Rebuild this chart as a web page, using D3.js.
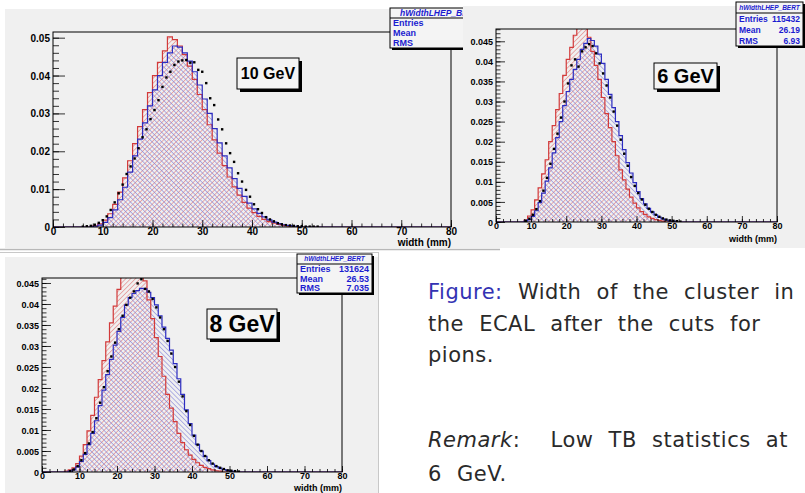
<!DOCTYPE html>
<html>
<head>
<meta charset="utf-8">
<script src="https://cdn.jsdelivr.net/npm/d3@7"></script>
<style>
body { margin: 0; background: #fff; }
svg { display: block; }
</style>
</head>
<body>
<svg id="chart" width="805" height="493"></svg>
<script>
'use strict';

const xTicks = [0, 10, 20, 30, 40, 50, 60, 70, 80];
const xLabel = "width (mm)";
const statTitle = "hWidthLHEP_BERT";
const statNames = ["Entries", "Mean", "RMS"];

// 10 GeV (1 mm bins, first bin given by *Start)
const red10Start = 8;
const red10 = [0.0003, 0.0008, 0.0018, 0.0035, 0.006, 0.0092, 0.013, 0.0175, 0.022, 0.0265,
  0.031, 0.0355, 0.040, 0.0435, 0.0465, 0.0502, 0.0495, 0.0478, 0.0455, 0.0425,
  0.039, 0.035, 0.031, 0.027, 0.023, 0.0195, 0.0162, 0.0132, 0.0106, 0.0084,
  0.0065, 0.005, 0.0038, 0.0028, 0.002, 0.0014, 0.001, 0.0007, 0.0004, 0.0002];
const blue10Start = 8;
const blue10 = [0.0002, 0.0005, 0.0012, 0.0025, 0.0045, 0.0072, 0.0105, 0.0145, 0.0188, 0.0232,
  0.0275, 0.032, 0.0362, 0.040, 0.0435, 0.046, 0.0478, 0.0475, 0.046, 0.0438,
  0.041, 0.0375, 0.0338, 0.030, 0.026, 0.0222, 0.0188, 0.0156, 0.0128, 0.0102,
  0.0081, 0.0063, 0.0048, 0.0036, 0.0027, 0.0019, 0.0013, 0.0009, 0.0006, 0.0004, 0.0002];
const dots10First = 6.0;   // centre of first data point (mm)
const dots10Step = 0.8;
const dots10 = [0.0001, 0.0002, 0.0003, 0.0006, 0.0011, 0.0018, 0.0028, 0.0045, 0.0065, 0.0089,
  0.0112, 0.014, 0.016, 0.0181, 0.0208, 0.0237, 0.0258, 0.0285, 0.0309, 0.0335,
  0.037, 0.0395, 0.041, 0.0428, 0.0437, 0.044, 0.0441, 0.0434, 0.0435, 0.0415,
  0.041, 0.038, 0.034, 0.0322, 0.0284, 0.0258, 0.0221, 0.0195, 0.0172, 0.0142,
  0.012, 0.0098, 0.008, 0.006, 0.0047, 0.0037, 0.0026, 0.002, 0.0015, 0.001,
  0.0007, 0.0005, 0.0004, 0.0003, 0.0002, 0.0002, 0.0001, 0.0001, 0.0001, 0.0001];
const stat10 = ["1", "", ""];

// 6 GeV
const red6Start = 8;
const red6 = [0.0005, 0.0015, 0.003, 0.0055, 0.0085, 0.012, 0.0155, 0.020, 0.024, 0.028,
  0.032, 0.0365, 0.0405, 0.0435, 0.0465, 0.049, 0.0495, 0.049, 0.046, 0.0425,
  0.039, 0.0355, 0.031, 0.027, 0.0235, 0.020, 0.0165, 0.013, 0.0105, 0.0082,
  0.0062, 0.0047, 0.0035, 0.0026, 0.0019, 0.0013, 0.0009, 0.0006, 0.0004, 0.0002];
const blue6Start = 8;
const blue6 = [0.0002, 0.0006, 0.0014, 0.0028, 0.0048, 0.0072, 0.0102, 0.0135, 0.0172, 0.021,
  0.025, 0.029, 0.0325, 0.0355, 0.038, 0.0405, 0.043, 0.0445, 0.0457, 0.0452,
  0.0438, 0.0418, 0.0395, 0.0355, 0.0318, 0.0285, 0.025, 0.0215, 0.018, 0.0148,
  0.0122, 0.0098, 0.0076, 0.0058, 0.0045, 0.0034, 0.0025, 0.0018, 0.0012, 0.0008,
  0.0005, 0.0003, 0.0002];
const dots6First = 8.5;
const dots6Step = 1;
const dots6 = [0.0003, 0.0008, 0.0018, 0.0032, 0.0052, 0.0078, 0.011, 0.0145, 0.0182, 0.022,
  0.026, 0.030, 0.0345, 0.039, 0.0405, 0.0387, 0.0425, 0.0435, 0.0443, 0.0438,
  0.042, 0.0395, 0.037, 0.034, 0.031, 0.0275, 0.024, 0.0205, 0.017, 0.014,
  0.0112, 0.009, 0.0072, 0.0056, 0.0043, 0.0033, 0.0025, 0.0018, 0.0013, 0.0009,
  0.0006, 0.0004, 0.0003, 0.0002, 0.0001];
const stat6 = ["115432", "26.19", "6.93"];

// 8 GeV
const red8Start = 6;
const red8 = [0.0002, 0.0005, 0.001, 0.002, 0.0038, 0.0065, 0.0098, 0.0135, 0.0178, 0.022,
  0.0265, 0.031, 0.0355, 0.0395, 0.0435, 0.047, 0.049, 0.0505, 0.051, 0.0505,
  0.0485, 0.0455, 0.041, 0.0365, 0.032, 0.0275, 0.0228, 0.0185, 0.0152, 0.012,
  0.0092, 0.007, 0.0053, 0.004, 0.003, 0.0022, 0.0016, 0.0011, 0.0008, 0.0005,
  0.0003, 0.0002];
const blue8Start = 7;
const blue8 = [0.0002, 0.0005, 0.0012, 0.0025, 0.0042, 0.0065, 0.0092, 0.0122, 0.0158, 0.0195,
  0.0232, 0.0268, 0.0302, 0.0335, 0.0368, 0.0398, 0.0415, 0.0425, 0.0432, 0.0437,
  0.0436, 0.0428, 0.0415, 0.0398, 0.0372, 0.0345, 0.0318, 0.029, 0.0258, 0.0222,
  0.0185, 0.0148, 0.0115, 0.0088, 0.0066, 0.005, 0.0037, 0.0027, 0.0019, 0.0013,
  0.0009, 0.0006, 0.0004, 0.0002];
const dots8First = 7.5;
const dots8Step = 1;
const dots8 = [0.0002, 0.0006, 0.0014, 0.0028, 0.0045, 0.0068, 0.0095, 0.0128, 0.0165, 0.0202,
  0.024, 0.0275, 0.0308, 0.034, 0.0372, 0.0398, 0.0415, 0.043, 0.0449, 0.0459,
  0.0436, 0.043, 0.0412, 0.0392, 0.0368, 0.034, 0.0312, 0.0282, 0.025, 0.0215,
  0.018, 0.0145, 0.0112, 0.0086, 0.0065, 0.005, 0.0038, 0.0028, 0.002, 0.0014,
  0.001, 0.0007, 0.0004, 0.0003, 0.0002, 0.0001];
const stat8 = ["131624", "26.53", "7.035"];

// ---- drawing ----
const svg = d3.select("#chart");
const canvasGrey = "#f0f0f0";
const redLine = "#d23a3a", blueLine = "#2c2cc0";
const statBlue = "#1c1cd0";
const rootFont = "Liberation Sans, Arial, sans-serif";

let defs = svg.append("defs");
function hatch(id, color, angle) {
    defs.append("pattern")
        .attr("id", id)
        .attr("patternUnits", "userSpaceOnUse")
        .attr("width", 3.4).attr("height", 3.4)
        .attr("patternTransform", `rotate(${angle})`)
        .append("line")
        .attr("x1", 0).attr("y1", 0).attr("x2", 0).attr("y2", 3.4)
        .attr("stroke", color).attr("stroke-width", 1.1);
}
hatch("hatchRed", "#e07272", 45);
hatch("hatchBlue", "#7a7ad8", -45);

// turn a sparse bin list into the full 0..80 list the step curves need
function fullBins(values, start) {
    let pts = d3.range(80).map(b => {
        let v = (b >= start && b < start + values.length) ? values[b - start] : 0;
        return [b, v];
    });
    pts.push([80, 0]);
    return pts;
}

function drawPanel(p, idx) {
    let g = svg.append("g").attr("class", "panel");
    let f = p.frame;

    g.append("rect")
        .attr("x", p.canvas[0]).attr("y", p.canvas[1])
        .attr("width", p.canvas[2]).attr("height", p.canvas[3])
        .attr("fill", canvasGrey);

    let x = d3.scaleLinear().domain([0, 80]).range([f.left, f.right]);
    let y = d3.scaleLinear().domain([0, p.yMax]).range([f.bottom, f.top]);

    defs.append("clipPath").attr("id", "clip" + idx)
        .append("rect")
        .attr("x", f.left).attr("y", f.top)
        .attr("width", f.right - f.left).attr("height", f.bottom - f.top);

    let plot = g.append("g").attr("clip-path", `url(#clip${idx})`);

    let area = d3.area().curve(d3.curveStepAfter)
        .x(d => x(d[0])).y0(y(0)).y1(d => y(d[1]));
    let line = d3.line().curve(d3.curveStepAfter)
        .x(d => x(d[0])).y(d => y(d[1]));

    let redPts = fullBins(p.red, p.redStart);
    let bluePts = fullBins(p.blue, p.blueStart);

    plot.append("path").datum(redPts).attr("d", area).attr("fill", "url(#hatchRed)");
    plot.append("path").datum(bluePts).attr("d", area).attr("fill", "url(#hatchBlue)");
    plot.append("path").datum(redPts).attr("d", line)
        .attr("fill", "none").attr("stroke", redLine).attr("stroke-width", 1.2);
    plot.append("path").datum(bluePts).attr("d", line)
        .attr("fill", "none").attr("stroke", blueLine).attr("stroke-width", 1.2);

    plot.selectAll("rect.dot")
        .data(p.dots)
        .enter().append("rect")
        .attr("class", "dot")
        .attr("x", (d, i) => x(p.dotsFirst + i * p.dotsStep) - 1.2)
        .attr("y", d => y(d) - 1.2)
        .attr("width", 2.4).attr("height", 2.4)
        .attr("fill", "#000");

    g.append("rect")
        .attr("x", f.left).attr("y", f.top)
        .attr("width", f.right - f.left).attr("height", f.bottom - f.top)
        .attr("fill", "none").attr("stroke", "#000").attr("stroke-width", 1);

    // axes, ticks pointing into the frame like ROOT
    let fmtY = d => d === 0 ? "0" : String(+d.toFixed(4));
    let yMajors = d3.range(0, p.yMax + 1e-9, p.yMajor);
    let yMinors = d3.range(0, p.yMax + 1e-9, p.yMinor);

    let yMinorAxis = g.append("g").attr("transform", `translate(${f.left},0)`)
        .call(d3.axisLeft(y).tickValues(yMinors).tickSize(-p.minorLen).tickFormat(""));
    let yAxis = g.append("g").attr("transform", `translate(${f.left},0)`)
        .call(d3.axisLeft(y).tickValues(yMajors).tickSize(-p.majorLen).tickPadding(3).tickFormat(fmtY));

    let xMinors = d3.range(0, 80.001, 2);
    let xMinorAxis = g.append("g").attr("transform", `translate(0,${f.bottom})`)
        .call(d3.axisBottom(x).tickValues(xMinors).tickSize(-p.xMinorLen).tickFormat(""));
    let xAxis = g.append("g").attr("transform", `translate(0,${f.bottom})`)
        .call(d3.axisBottom(x).tickValues(xTicks).tickSize(-p.xMajorLen).tickPadding(1));

    [yMinorAxis, yAxis, xMinorAxis, xAxis].forEach(a => {
        a.select(".domain").remove();
        a.selectAll("line").attr("stroke", "#000").attr("stroke-width", 0.8);
        a.selectAll("text")
            .attr("fill", "#000")
            .style("font-family", rootFont)
            .style("font-weight", "bold")
            .style("font-size", p.tickFont + "px");
    });
    yAxis.selectAll("text").attr("dy", "0.35em");
    xAxis.selectAll("text").attr("dy", "0.72em");

    g.append("text")
        .attr("x", f.right).attr("y", p.xLabelY)
        .attr("text-anchor", "end")
        .style("font-family", rootFont)
        .style("font-weight", "bold")
        .style("font-size", p.tickFont + "px")
        .text(xLabel);

    // energy label with ROOT shadow
    let b = p.label;
    g.append("rect").attr("x", b.x + 3).attr("y", b.y + 3)
        .attr("width", b.w).attr("height", b.h).attr("fill", "#000");
    g.append("rect").attr("x", b.x).attr("y", b.y)
        .attr("width", b.w).attr("height", b.h)
        .attr("fill", "#f4f4f4").attr("stroke", "#000").attr("stroke-width", 1);
    g.append("text")
        .attr("x", b.x + b.w / 2).attr("y", b.y + b.h / 2)
        .attr("dy", "0.36em")
        .attr("text-anchor", "middle")
        .style("font-family", rootFont)
        .style("font-weight", "bold")
        .style("font-size", b.size + "px")
        .text(b.text);

    // statistics box
    let s = p.stat;
    g.append("rect").attr("x", s.x + 2).attr("y", s.y + 2)
        .attr("width", s.w).attr("height", s.h).attr("fill", "#000");
    g.append("rect").attr("x", s.x).attr("y", s.y)
        .attr("width", s.w).attr("height", s.h)
        .attr("fill", "#f4f4f4").attr("stroke", "#000").attr("stroke-width", 1);
    let rowH = (s.h - s.titleH) / 3;
    g.append("line")
        .attr("x1", s.x).attr("x2", s.x + s.w)
        .attr("y1", s.y + s.titleH).attr("y2", s.y + s.titleH)
        .attr("stroke", "#000").attr("stroke-width", 1);
    g.append("text")
        .attr("x", s.x + s.w / 2).attr("y", s.y + s.titleH / 2)
        .attr("dy", "0.36em").attr("text-anchor", "middle")
        .attr("fill", statBlue)
        .style("font-family", rootFont)
        .style("font-weight", "bold").style("font-style", "italic")
        .style("font-size", s.titleSize + "px")
        .text(statTitle);
    statNames.forEach((name, i) => {
        let cy = s.y + s.titleH + rowH * (i + 0.5);
        g.append("text")
            .attr("x", s.x + 3).attr("y", cy).attr("dy", "0.36em")
            .attr("fill", statBlue)
            .style("font-family", rootFont)
            .style("font-weight", "bold").style("font-size", s.size + "px")
            .text(name);
        g.append("text")
            .attr("x", s.x + s.w - 3).attr("y", cy).attr("dy", "0.36em")
            .attr("text-anchor", "end")
            .attr("fill", statBlue)
            .style("font-family", rootFont)
            .style("font-weight", "bold").style("font-size", s.size + "px")
            .text(p.statValues[i]);
    });
}

const panels = [
    {
        canvas: [5, 9, 495, 239],
        frame: {left: 53, right: 451, top: 32, bottom: 227},
        yMax: 0.0515, yMajor: 0.01, yMinor: 0.002,
        majorLen: 12, minorLen: 6, xMajorLen: 7, xMinorLen: 3.5, tickFont: 10, xLabelY: 246,
        red: red10, redStart: red10Start, blue: blue10, blueStart: blue10Start,
        dots: dots10, dotsFirst: dots10First, dotsStep: dots10Step,
        label: {x: 237, y: 58, w: 62, h: 31, text: "10 GeV", size: 16},
        stat: {x: 390, y: 8, w: 99, h: 40, titleH: 10, titleSize: 8.5, size: 9},
        statValues: stat10
    },
    {
        canvas: [463, 6, 342, 242],
        frame: {left: 496, right: 777, top: 29, bottom: 222},
        yMax: 0.04806, yMajor: 0.005, yMinor: 0.001,
        majorLen: 9, minorLen: 4.5, xMajorLen: 6, xMinorLen: 3, tickFont: 9, xLabelY: 242,
        red: red6, redStart: red6Start, blue: blue6, blueStart: blue6Start,
        dots: dots6, dotsFirst: dots6First, dotsStep: dots6Step,
        label: {x: 654, y: 63, w: 63, h: 26, text: "6 GeV", size: 20},
        stat: {x: 736, y: 2, w: 67, h: 44, titleH: 11, titleSize: 6.5, size: 8.5},
        statValues: stat6
    },
    {
        canvas: [5, 257, 373, 236],
        frame: {left: 42, right: 342, top: 278, bottom: 472},
        yMax: 0.04619, yMajor: 0.005, yMinor: 0.001,
        majorLen: 9, minorLen: 4.5, xMajorLen: 6, xMinorLen: 3, tickFont: 9, xLabelY: 491,
        red: red8, redStart: red8Start, blue: blue8, blueStart: blue8Start,
        dots: dots8, dotsFirst: dots8First, dotsStep: dots8Step,
        label: {x: 207, y: 309, w: 70, h: 30, text: "8 GeV", size: 23},
        stat: {x: 297, y: 254, w: 75, h: 39, titleH: 10, titleSize: 6.5, size: 9},
        statValues: stat8
    }
];

panels.forEach((p, i) => drawPanel(p, i));

// faint image borders of the pasted screenshots
svg.append("line").attr("x1", 0).attr("x2", 500).attr("y1", 249.5).attr("y2", 249.5)
    .attr("stroke", "#b8b8b8").attr("stroke-width", 1.5);
svg.append("line").attr("x1", 0).attr("x2", 378).attr("y1", 252.5).attr("y2", 252.5)
    .attr("stroke", "#c8c8c8").attr("stroke-width", 1);
svg.append("line").attr("x1", 378.5).attr("x2", 378.5).attr("y1", 252).attr("y2", 493)
    .attr("stroke", "#c8c8c8").attr("stroke-width", 1);

// ---- slide text ----
const captionLines = [
    [{t: "Figure:", c: "#3333b3"}, {t: " Width of the cluster in", c: "#2a2a2a"}],
    [{t: "the ECAL after the cuts for", c: "#2a2a2a"}],
    [{t: "pions.", c: "#2a2a2a"}]
];
const remarkLines = [
    [{t: "Remark", c: "#2a2a2a", i: true}, {t: ":  Low TB statistics at", c: "#2a2a2a"}],
    [{t: "6 GeV.", c: "#2a2a2a"}]
];
const captionY = [299, 331, 362];
const remarkY = [447, 481];

function writeLines(lines, ys) {
    lines.forEach((parts, k) => {
        let t = svg.append("text")
            .attr("x", 428).attr("y", ys[k])
            .attr("xml:space", "preserve")
            .style("font-family", "DejaVu Sans, sans-serif")
            .style("font-size", "21px")
            .style("letter-spacing", "0.5px")
            .style("word-spacing", "8px");
        parts.forEach(part => {
            t.append("tspan").attr("fill", part.c)
                .style("font-style", part.i ? "italic" : "normal")
                .text(part.t);
        });
    });
}
writeLines(captionLines, captionY);
writeLines(remarkLines, remarkY);
</script>
</body>
</html>
